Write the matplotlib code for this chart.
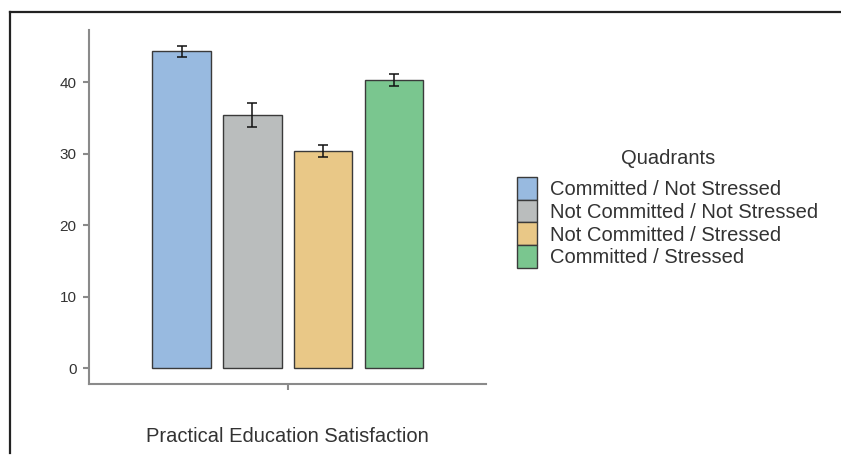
import numpy as np
import matplotlib
matplotlib.use("Agg")
import matplotlib.pyplot as plt
from matplotlib.lines import Line2D
from matplotlib.patches import Patch

plt.rcParams["font.family"] = ["Liberation Sans", "DejaVu Sans"]

quadrants = ["Committed / Not Stressed", "Not Committed / Not Stressed",
             "Not Committed / Stressed", "Committed / Stressed"]
means = [44.3, 35.4, 30.35, 40.35]
errors = [0.75, 1.65, 0.85, 0.85]
colors = ["#98bae0", "#babdbd", "#e9c887", "#7ac68f"]
yticks = [0, 10, 20, 30, 40]
xlabel = "Practical Education Satisfaction"

fig = plt.figure(figsize=(8.41, 4.55), dpi=100)
ax = fig.add_axes([0.1058, 0.156, 0.472, 0.778])

x = np.arange(len(means))
ax.bar(x, means, width=0.825, color=colors, edgecolor="#3a3a3a", linewidth=1.0, zorder=2)
ax.errorbar(x, means, yerr=errors, fmt="none", ecolor="#111111",
            elinewidth=1.1, capsize=3.5, capthick=1.1, zorder=3)

ax.set_xlim(-1.31, 4.30)
ax.set_ylim(-2.24, 47.3)
ax.set_yticks(yticks)
ax.set_xticks([1.5])
ax.set_xticklabels([""])

for side in ["top", "right"]:
    ax.spines[side].set_visible(False)
for side in ["left", "bottom"]:
    ax.spines[side].set_color("#8a8a8a")
    ax.spines[side].set_linewidth(1.5)
ax.tick_params(axis="both", colors="#8a8a8a", width=1.5, length=4,
               labelcolor="#333333", labelsize=11, pad=5)
ax.set_xlabel(xlabel, fontsize=14.5, color="#333333", labelpad=22)

handles = [Patch(facecolor=c, edgecolor="#3a3a3a", linewidth=1.0) for c in colors]
leg = fig.legend(handles, quadrants, loc="upper left", bbox_to_anchor=(0.6147, 1 - 177 / 455),
                 frameon=False, fontsize=14.5,
                 handlelength=1.0, handleheight=1.36, labelspacing=0.0,
                 handletextpad=0.65, borderpad=0, borderaxespad=0)
for t in leg.get_texts():
    t.set_color("#333333")
fig.text(668 / 841, 1 - 158 / 455, "Quadrants", fontsize=14.5, color="#333333",
         ha="center", va="center")

# outer frame: top and left edges
fig.add_artist(Line2D([9.5 / 841, 1.0], [1 - 12 / 455, 1 - 12 / 455],
                      color="#222222", linewidth=1.6))
fig.add_artist(Line2D([9.5 / 841, 9.5 / 841], [1 - 12 / 455, 1 - 453 / 455],
                      color="#222222", linewidth=1.6))

fig.savefig("out.png", dpi=100)
